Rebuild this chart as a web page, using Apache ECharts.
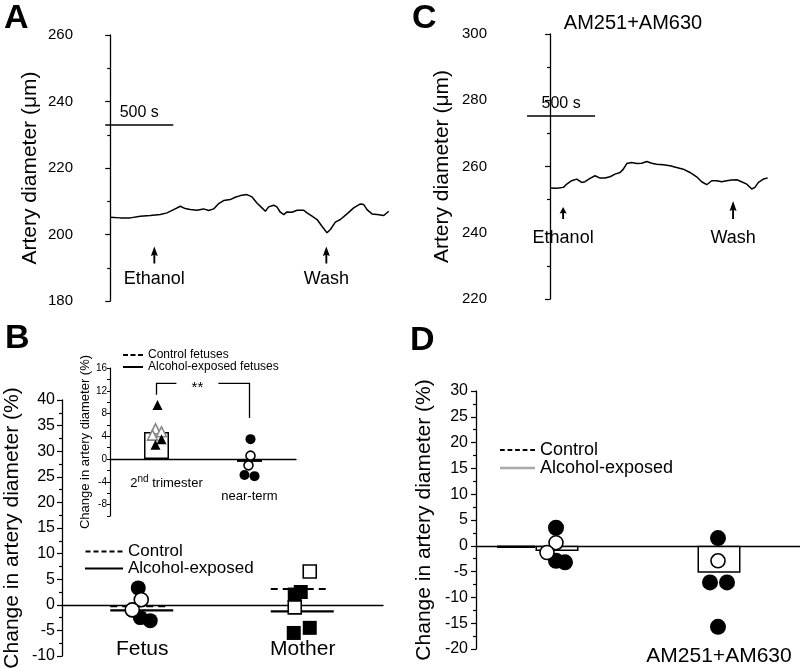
<!DOCTYPE html>
<html>
<head>
<meta charset="utf-8">
<script src="https://cdn.jsdelivr.net/npm/echarts@6/dist/echarts.min.js"></script>
<style>
  html, body { margin: 0; padding: 0; background: #fff; }
  #chart { width: 800px; height: 669px; }
</style>
</head>
<body>
<div id="chart"></div>
<script>
// panel A trace: time (s) and diameter (um)
const traceATime = [0, 74, 147, 221, 294, 368, 417, 466, 515, 551, 588, 637, 686, 723, 760, 797, 833, 882, 919, 956,
  1005, 1042, 1078, 1115, 1140, 1164, 1201, 1225, 1250, 1275, 1299, 1336, 1373, 1422, 1446, 1483, 1520, 1556, 1593, 1618,
  1654, 1691, 1740, 1789, 1838, 1863, 1887, 1924, 1961, 2010, 2047]
const traceADiam = [205.2, 205.0, 205.0, 205.5, 205.7, 206.0, 206.5, 207.5, 208.5, 207.8, 207.5, 207.3, 207.7, 207.2, 207.7, 209.3, 210.2, 210.5, 211.2, 211.7,
  212.0, 211.3, 209.5, 208.0, 207.0, 208.3, 208.8, 208.3, 206.7, 206.0, 206.8, 206.7, 207.3, 207.3, 206.5, 205.5, 204.5, 202.5, 200.5, 201.5,
  203.7, 204.5, 206.2, 208.0, 209.2, 209.0, 207.5, 206.2, 206.0, 205.7, 207.0]
const arrowsA = [{ name: 'Ethanol', t: 324 }, { name: 'Wash', t: 1588 }]

// panel C trace
const traceCTime = [0, 49, 98, 123, 159, 196, 233, 257, 294, 331, 368, 404, 441, 478, 515, 539, 564, 600, 637, 674,
  711, 748, 784, 833, 882, 931, 980, 1029, 1078, 1115, 1152, 1189, 1226, 1262, 1299, 1336, 1373, 1409, 1446, 1483,
  1507, 1532, 1569, 1600]
const traceCDiam = [253.5, 253.4, 253.7, 254.7, 255.7, 256.2, 255.2, 255.4, 256.4, 257.2, 256.5, 256.5, 256.9, 257.7, 258.2, 259.2, 260.9, 261.2, 260.9, 261.0,
  261.5, 261.0, 260.7, 260.5, 260.2, 259.7, 259.2, 258.2, 256.9, 255.4, 254.5, 255.7, 255.7, 255.4, 255.7, 255.9, 256.0, 255.4, 254.7, 253.2,
  253.7, 255.2, 256.2, 256.5]
const arrowsC = [{ name: 'Ethanol', t: 96 }, { name: 'Wash', t: 1346 }]

// panel B main
const groupsB = ['Fetus', 'Mother']
const fetusControl = [1.0, -1.0]
const fetusAlcohol = [3.3, -2.5, -3.1]
const motherControl = [6.5, -0.5]
const motherAlcohol = [2.5, 2.0, -5.5, -4.5]
const meanControlB = [-0.3, 3.1]
const meanAlcoholB = [-1.1, -1.3]

// panel B inset
const insetGroups = ['2nd trimester', 'near-term']
const insetMeans = [4.75, -0.5]
const trimesterControl = [5.3, 4.8, 4.2]
const trimesterAlcohol = [9.5, 3.5, 2.5]
const nearTermControl = [0.6, -1.1]
const nearTermAlcohol = [3.5, -2.8, -3.0]
const sigBracket = [13.3, 11.3, 7.2] // top, left end, right end

// panel D
const groupsD = ['', 'AM251+AM630']
const meansD = [-1.0, -5.2]
const controlLineD = [-0.2]
const dFirstControl = [0.6, -1.3]
const dFirstAlcohol = [3.5, -2.9, -3.2]
const dSecondControl = [-2.9]
const dSecondAlcohol = [1.5, -7.1, -7.1, -15.7]

const FONT = 'Liberation Sans, Arial, sans-serif'
const ARROW = 'path://M3,0L6,10L3.8,9L3.8,18L2.2,18L2.2,9L0,10Z'
const DASH_ICON = 'path://M0,0h5v2h-5zM8,0h5v2h-5zM16,0h5v2h-5zM24,0h5v2h-5zM32,0h5v2h-5z'

const chart = echarts.init(document.getElementById('chart'))

function pair(xs, ys) {
  return xs.map((x, i) => [x, ys[i]])
}

function pts(cat, values, offsets) {
  return values.map((v, i) => ({ value: [cat, v], symbolOffset: [offsets[i], 0] }))
}

function yAxisBase(extra) {
  return Object.assign({
    type: 'value',
    axisLine: { show: true, lineStyle: { color: '#000', width: 1.3 } },
    axisTick: { show: true, length: 5, lineStyle: { color: '#000', width: 1.2 } },
    minorTick: { show: true, splitNumber: 2, length: 3, lineStyle: { color: '#000', width: 1.2 } },
    splitLine: { show: false },
    minorSplitLine: { show: false },
    axisLabel: { color: '#000', fontSize: 15, fontFamily: FONT, margin: 8 },
    nameLocation: 'middle',
    nameRotate: 90,
    nameTextStyle: { color: '#000', fontSize: 21, fontFamily: FONT }
  }, extra)
}

function meanLine(name, grid, data, off, dashed, color, width) {
  return {
    type: 'custom',
    name: name,
    xAxisIndex: grid,
    yAxisIndex: grid,
    data: data,
    itemStyle: { color: color },
    z: 3,
    renderItem: function (params, api) {
      const p = api.coord([api.value(0), api.value(1)])
      return {
        type: 'line',
        shape: { x1: p[0] + off[0], y1: p[1], x2: p[0] + off[1], y2: p[1] },
        style: { stroke: color, lineWidth: width, lineDash: dashed ? [7, 5] : null }
      }
    }
  }
}

function dots(name, grid, data, symbol, size, filled, z, border) {
  return {
    type: 'scatter',
    name: name,
    xAxisIndex: grid,
    yAxisIndex: grid,
    symbol: symbol,
    symbolSize: size,
    data: data,
    z: z,
    itemStyle: filled
      ? { color: '#000', opacity: 1 }
      : { color: '#fff', borderColor: border || '#000', borderWidth: 1.6, opacity: 1 }
  }
}

function arrowSeries(grid, arrows, yVal, sizes, dist) {
  return {
    type: 'scatter',
    xAxisIndex: grid,
    yAxisIndex: grid,
    symbol: ARROW,
    data: arrows.map((a, i) => ({ name: a.name, value: [a.t, yVal[i]], symbolSize: sizes[i] })),
    itemStyle: { color: '#000', opacity: 1 },
    label: {
      show: true, position: 'bottom', distance: dist, formatter: '{b}',
      color: '#000', fontSize: 18, fontFamily: FONT
    }
  }
}

function scaleBar(t0, y) {
  return {
    silent: true,
    symbol: ['none', 'none'],
    lineStyle: { color: '#000', width: 1.5, type: 'solid' },
    label: { show: true, position: 'middle', formatter: '500 s', color: '#000', fontSize: 16, fontFamily: FONT, distance: 4 },
    data: [[{ coord: [t0, y] }, { coord: [t0 + 500, y] }]]
  }
}

const flatIcon = { color: '#000', borderWidth: 0, opacity: 1 }

const option = {
  animation: false,
  backgroundColor: '#fff',
  textStyle: { fontFamily: FONT },
  title: [
    { text: 'A', left: 4, top: 2, padding: 0, textStyle: { fontSize: 34, fontWeight: 'bold', color: '#000', fontFamily: FONT } },
    { text: 'C', left: 412, top: 2, padding: 0, textStyle: { fontSize: 34, fontWeight: 'bold', color: '#000', fontFamily: FONT } },
    { text: 'B', left: 5, top: 322, padding: 0, textStyle: { fontSize: 34, fontWeight: 'bold', color: '#000', fontFamily: FONT } },
    { text: 'D', left: 410, top: 324, padding: 0, textStyle: { fontSize: 34, fontWeight: 'bold', color: '#000', fontFamily: FONT } },
    { text: 'AM251+AM630', left: 633, top: 13, padding: 0, textAlign: 'center', textStyle: { fontSize: 20, fontWeight: 'normal', color: '#000', fontFamily: FONT } }
  ],
  legend: [
    {
      left: 85, top: 543, orient: 'vertical', padding: 0, itemGap: 0,
      itemWidth: 38, itemHeight: 2,
      textStyle: { color: '#000', fontSize: 17, lineHeight: 15, fontFamily: FONT },
      data: [
        { name: 'Control', icon: DASH_ICON, itemStyle: flatIcon },
        { name: 'Alcohol-exposed', icon: 'rect', itemStyle: flatIcon }
      ]
    },
    {
      left: 123, top: 349, orient: 'vertical', padding: 0, itemGap: 0,
      itemWidth: 20, itemHeight: 2,
      textStyle: { color: '#000', fontSize: 12, lineHeight: 12, fontFamily: FONT },
      data: [
        { name: 'Control fetuses', icon: 'path://M0,0h5v2h-5zM7.5,0h5v2h-5zM15,0h5v2h-5z', itemStyle: flatIcon },
        { name: 'Alcohol-exposed fetuses', icon: 'rect', itemStyle: flatIcon }
      ]
    },
    {
      left: 500, top: 441, orient: 'vertical', padding: 0, itemGap: 0,
      itemWidth: 35, itemHeight: 2.5,
      textStyle: { color: '#000', fontSize: 18, lineHeight: 16, fontFamily: FONT },
      data: [
        { name: 'Control', icon: DASH_ICON, itemStyle: flatIcon },
        { name: 'Alcohol-exposed', icon: 'rect', itemStyle: { color: '#aaa', borderWidth: 0, opacity: 1 } }
      ]
    }
  ],
  grid: [
    { left: 81, top: 35, width: 315, height: 266, outerBoundsMode: 'none' },   // A
    { left: 495, top: 34, width: 293, height: 265, outerBoundsMode: 'none' },  // C
    { left: 62, top: 400, width: 321, height: 256, outerBoundsMode: 'none' },  // B
    { left: 110, top: 368, width: 186, height: 148, outerBoundsMode: 'none' }, // B inset
    { left: 476, top: 391, width: 324, height: 258, outerBoundsMode: 'none' }  // D
  ],
  xAxis: [
    { type: 'value', gridIndex: 0, min: -215, max: 2100, show: false },
    { type: 'value', gridIndex: 1, min: -405, max: 1750, show: false },
    {
      type: 'category', gridIndex: 2, data: groupsB,
      axisLine: { show: true, onZero: true, lineStyle: { color: '#000', width: 1.3 } },
      axisTick: { show: false },
      axisLabel: { interval: 0, color: '#000', fontSize: 21, fontFamily: FONT, margin: -17 }
    },
    {
      type: 'category', gridIndex: 3, data: insetGroups,
      axisLine: { show: true, onZero: true, lineStyle: { color: '#000', width: 1.3 } },
      axisTick: { show: false },
      axisLabel: {
        interval: 0,
        margin: -42,
        formatter: function (v, i) {
          return i === 0 ? '{first|2}{sup|nd}{n| trimester}' : '{low|near-term}'
        },
        rich: {
          first: { fontSize: 13, color: '#000', fontFamily: FONT, padding: [0, 0, 0, 20] },
          n: { fontSize: 13, color: '#000', fontFamily: FONT },
          sup: { fontSize: 10, color: '#000', fontFamily: FONT, verticalAlign: 'top', padding: [0, 0, 8, 0] },
          low: { fontSize: 13, color: '#000', fontFamily: FONT, padding: [16, 0, 0, 0] }
        }
      }
    },
    {
      type: 'category', gridIndex: 4, data: groupsD,
      axisLine: { show: true, onZero: true, lineStyle: { color: '#000', width: 1.3 } },
      axisTick: { show: false },
      axisLabel: { interval: 0, color: '#000', fontSize: 21, fontFamily: FONT, margin: -3 }
    }
  ],
  yAxis: [
    yAxisBase({ gridIndex: 0, min: 180, max: 260, interval: 20, name: 'Artery diameter (μm)', nameGap: 40 }),
    yAxisBase({ gridIndex: 1, min: 220, max: 300, interval: 20, name: 'Artery diameter (μm)', nameGap: 42 }),
    yAxisBase({
      gridIndex: 2, min: -10, max: 40, interval: 5, name: 'Change in artery diameter (%)', nameGap: 39,
      axisLabel: { color: '#000', fontSize: 16, fontFamily: FONT, margin: 7 }
    }),
    yAxisBase({
      gridIndex: 3, min: -10, max: 16, interval: 2, name: 'Change in artery diameter (%)', nameGap: 16,
      nameTextStyle: { color: '#000', fontSize: 13, fontFamily: FONT },
      axisTick: { show: true, length: 3, lineStyle: { color: '#000', width: 1 } },
      minorTick: { show: false },
      axisLine: { show: true, lineStyle: { color: '#000', width: 1.2 } },
      axisLabel: {
        color: '#000', fontSize: 10, fontFamily: FONT, margin: 3,
        formatter: v => (v % 4 === 0 ? String(v) : '')
      }
    }),
    yAxisBase({
      gridIndex: 4, min: -20, max: 30, interval: 5, name: 'Change in artery diameter (%)', nameGap: 41,
      axisLabel: { color: '#000', fontSize: 16, fontFamily: FONT, margin: 8 }
    })
  ],
  series: [
    // A
    {
      type: 'line', xAxisIndex: 0, yAxisIndex: 0, data: pair(traceATime, traceADiam),
      showSymbol: false, lineStyle: { color: '#000', width: 1.5 },
      markLine: scaleBar(-37, 233)
    },
    arrowSeries(0, arrowsA, [193.85, 193.85], [[7, 17], [7, 17]], 7),
    // C
    {
      type: 'line', xAxisIndex: 1, yAxisIndex: 1, data: pair(traceCTime, traceCDiam),
      showSymbol: false, lineStyle: { color: '#000', width: 1.5 },
      markLine: scaleBar(-169, 275.3)
    },
    arrowSeries(1, arrowsC, [246.0, 246.9], [[7, 12], [7, 18]], 10),
    // B main
    meanLine('Control', 2, groupsB.map((g, i) => [i, meanControlB[i]]), [-32, 24], true, '#000', 2),
    meanLine('Alcohol-exposed', 2, groupsB.map((g, i) => [i, meanAlcoholB[i]]), [-32, 31], false, '#000', 2.2),
    dots('fetus alcohol', 2, pts(0, fetusAlcohol, [-4, -2, 8]), 'circle', 15, true, 4),
    dots('fetus control', 2, pts(0, fetusControl, [-1, -10]), 'circle', 14, false, 5),
    dots('mother alcohol', 2, pts(1, motherAlcohol, [-2, -8, -9, 7]), 'rect', 14, true, 4),
    dots('mother control', 2, pts(1, motherControl, [7, -8]), 'rect', 13, false, 5),
    // B inset
    {
      type: 'bar', xAxisIndex: 3, yAxisIndex: 3, data: insetMeans, barWidth: 25,
      itemStyle: { color: '#fff', borderColor: '#000', borderWidth: 1.5 }, z: 2
    },
    dots('Control fetuses', 3, pts(0, trimesterControl, [-1, 5, -4]), 'triangle', 10, false, 4, '#888'),
    dots('Alcohol-exposed fetuses', 3, pts(0, trimesterAlcohol, [1, 5, -1]), 'triangle', 10, true, 5),
    dots('near-term alcohol', 3, pts(1, nearTermAlcohol, [1, -5, 5]), 'circle', 10, true, 4),
    dots('near-term control', 3, pts(1, nearTermControl, [1, -1]), 'circle', 9, false, 5),
    {
      type: 'custom', xAxisIndex: 3, yAxisIndex: 3,
      data: [[0, sigBracket[0], sigBracket[1], sigBracket[2]]],
      renderItem: function (params, api) {
        const top = api.coord([0, api.value(1)])
        const l = api.coord([0, api.value(2)])
        const r = api.coord([1, api.value(3)])
        const xr = api.coord([1, api.value(1)])[0]
        const mid = top[0] + 0.44 * (xr - top[0])
        const st = { stroke: '#000', lineWidth: 1.3, fill: null }
        return {
          type: 'group',
          children: [
            { type: 'polyline', shape: { points: [[l[0], l[1]], [top[0], top[1]], [mid - 21, top[1]]] }, style: st },
            { type: 'polyline', shape: { points: [[mid + 21, top[1]], [xr, top[1]], [r[0], r[1]]] }, style: st },
            { type: 'text', x: mid, y: top[1] + 4, style: { text: '**', fill: '#000', fontSize: 15, fontFamily: FONT, align: 'center', verticalAlign: 'middle' } }
          ]
        }
      }
    },
    // D
    {
      type: 'bar', name: 'Alcohol-exposed', xAxisIndex: 4, yAxisIndex: 4, data: meansD, barWidth: 43,
      itemStyle: { color: '#fff', borderColor: '#000', borderWidth: 1.5 }, z: 2
    },
    meanLine('Control', 4, [[0, controlLineD[0]]], [-60, -22], false, '#000', 2.5),
    dots('d first alcohol', 4, pts(0, dFirstAlcohol, [-1, -1, 8]), 'circle', 16, true, 4),
    dots('d first control', 4, pts(0, dFirstControl, [-1, -10]), 'circle', 14, false, 5),
    dots('d second alcohol', 4, pts(1, dSecondAlcohol, [-1, -9, 8, -1]), 'circle', 16, true, 4),
    dots('d second control', 4, pts(1, dSecondControl, [-1]), 'circle', 14, false, 5)
  ]
}

chart.setOption(option)
</script>
</body>
</html>
